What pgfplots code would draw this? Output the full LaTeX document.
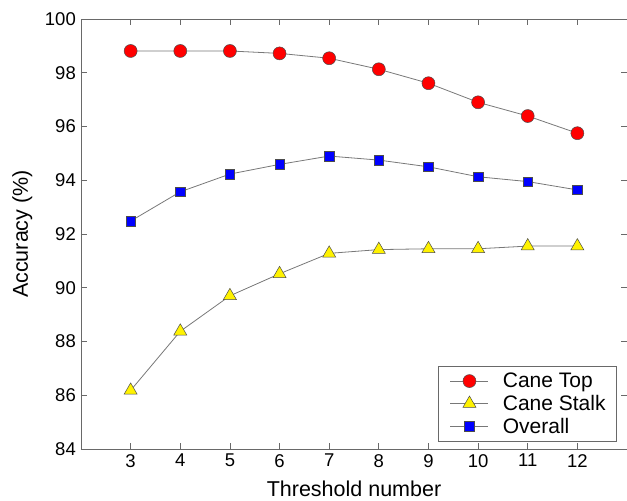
\documentclass[border=0pt]{standalone}
\usepackage{pgfplots}
\pgfplotsset{compat=1.18}
\usepackage{fontspec}
\setmainfont{Liberation Sans}
\definecolor{axgray}{RGB}{105,105,105}
\definecolor{lngray}{RGB}{120,120,120}
\begin{document}
\begin{tikzpicture}
\begin{axis}[
  scale only axis, width=546pt, height=430pt,
  xmin=2, xmax=13, ymin=84, ymax=100,
  xtick={3,4,5,6,7,8,9,10,11,12}, ytick={84,86,88,90,92,94,96,98,100},
  tick align=inside, major tick length=6pt,
  axis line style={axgray, line width=0.8pt},
  tick style={axgray, line width=0.8pt},
  /pgf/number format/assume math mode=true,
  ticklabel style={font=\fontsize{18.5}{20}\selectfont, text=black},
  yticklabel style={inner sep=0pt, anchor=east, xshift=-5pt},
  xticklabel style={inner sep=0pt, anchor=north, yshift=-5pt},
  xlabel={Threshold number}, ylabel={Accuracy (\%)},
  label style={font=\fontsize{21.5}{24}\selectfont},
  xlabel style={at={(rel axis cs:0.5,0)}, anchor=base, yshift=-47pt, inner sep=0pt},
  ylabel style={at={([xshift=-53pt]rel axis cs:0,0.5)}, anchor=base, rotate=0, inner sep=0pt},
  legend style={at={(rel axis cs:1,0)}, anchor=south east, xshift=-10pt, yshift=7pt,
    draw=axgray, line width=0.8pt, font=\fontsize{21}{24}\selectfont,
    row sep=2pt, inner xsep=9pt, inner ysep=5pt},
  legend cell align=left,
  legend image code/.code={\path (-3pt,0pt) (50pt,0pt); \draw[mark repeat=2,mark phase=2] plot coordinates {(0pt,0pt) (19pt,0pt) (38pt,0pt)};},
  every axis plot/.append style={lngray, line width=0.8pt},
]
\addplot[lngray, mark=*, mark size=6.5pt, mark options={fill=red, draw=black!70, line width=0.5pt}]
  coordinates {(3,98.81) (4,98.81) (5,98.81) (6,98.72) (7,98.54) (8,98.13) (9,97.61) (10,96.90) (11,96.39) (12,95.75)};
\addlegendentry{Cane Top}
\addplot[lngray, mark=triangle*, mark size=7.5pt, mark options={fill=yellow, draw=black!70, line width=0.5pt}]
  coordinates {(3,86.18) (4,88.38) (5,89.70) (6,90.52) (7,91.28) (8,91.42) (9,91.45) (10,91.45) (11,91.55) (12,91.55)};
\addlegendentry{Cane Stalk}
\addplot[lngray, mark=square*, mark size=4.75pt, mark options={fill=blue, draw=black!70, line width=0.5pt}]
  coordinates {(3,92.48) (4,93.57) (5,94.23) (6,94.59) (7,94.90) (8,94.75) (9,94.50) (10,94.13) (11,93.95) (12,93.64)};
\addlegendentry{Overall}
\end{axis}
\pgfresetboundingbox
\path[use as bounding box] ([xshift=-81pt,yshift=-52pt]current axis.south west) rectangle ([yshift=19pt]current axis.north east);
\end{tikzpicture}
\end{document}
